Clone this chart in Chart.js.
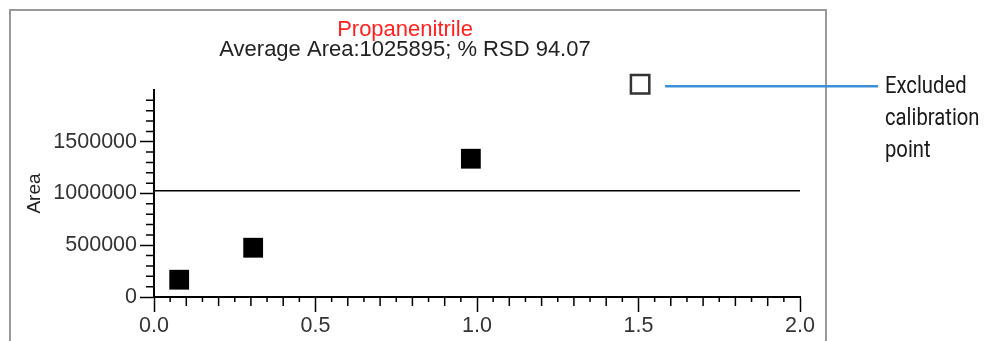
<!DOCTYPE html>
<html>
<head>
<meta charset="utf-8">
<script src="https://cdn.jsdelivr.net/npm/chart.js"></script>
<style>
  html, body { margin: 0; padding: 0; background: #fff; }
</style>
</head>
<body>
<canvas id="myChart" width="990" height="341"></canvas>
<script>
// data
const amounts = [0.078, 0.307, 0.981];
const areas = [167000, 476000, 1336000];
const excludedAmounts = [1.505];
const excludedAreas = [2055000];
const averageArea = 1025895;
const rsd = 94.07;
const xTickLabels = ['0.0', '0.5', '1.0', '1.5', '2.0'];
const yTickLabels = ['0', '500000', '1000000', '1500000'];
const noteLines = ['Excluded', 'calibration', 'point'];

const tickFont = { family: 'Liberation Sans', size: 21.5 };
const headFont = { family: 'Liberation Sans', size: 22, weight: 'normal', lineHeight: 0.9 };

function findLabel(list, value) {
  const hit = list.find(l => Math.abs(parseFloat(l) - value) < 1e-6);
  return hit === undefined ? '' : hit;
}

// minor tick marks + frame + callout
const extras = {
  id: 'extras',
  beforeDraw(chart) {
    const c = chart.ctx;
    c.save();
    c.strokeStyle = '#999';
    c.lineWidth = 2;
    c.strokeRect(10, 10, 816, 400);
    c.restore();
  },
  afterDraw(chart) {
    const c = chart.ctx;
    const xs = chart.scales.x, ys = chart.scales.y;
    c.save();
    c.strokeStyle = '#000';
    c.lineWidth = 1.5;
    c.beginPath();
    xs.ticks.forEach(t => {
      if (t.label !== '') return;
      const px = xs.getPixelForValue(t.value);
      const tenth = Math.abs(t.value * 10 - Math.round(t.value * 10)) < 1e-6;
      const len = tenth ? 9 : 5;
      c.moveTo(px, xs.top);
      c.lineTo(px, xs.top + len);
    });
    ys.ticks.forEach(t => {
      if (t.label !== '' || t.value >= ys.max) return;
      const py = ys.getPixelForValue(t.value);
      c.moveTo(ys.right - 8, py);
      c.lineTo(ys.right, py);
    });
    c.stroke();

    // callout for the excluded point
    const ex = xs.getPixelForValue(excludedAmounts[0]);
    const ey = ys.getPixelForValue(excludedAreas[0]);
    c.strokeStyle = '#3d8fd8';
    c.lineWidth = 2.5;
    c.beginPath();
    c.moveTo(ex + 25, ey + 2);
    c.lineTo(878, ey + 2);
    c.stroke();
    c.fillStyle = '#1a1a1a';
    c.font = '23px Roboto, sans-serif';
    c.textBaseline = 'middle';
    c.translate(885, 0);
    c.scale(0.88, 1);
    noteLines.forEach((s, i) => c.fillText(s, 0, ey + 3 + i * 32));
    c.restore();
  }
};

new Chart(document.getElementById('myChart'), {
  type: 'scatter',
  data: {
    datasets: [
      {
        data: amounts.map((x, i) => ({ x: x, y: areas[i] })),
        pointStyle: 'rect',
        pointRadius: 14,
        backgroundColor: '#000',
        borderColor: '#000',
        borderWidth: 0
      },
      {
        data: excludedAmounts.map((x, i) => ({ x: x, y: excludedAreas[i] })),
        pointStyle: 'rect',
        pointRadius: 13,
        backgroundColor: '#fff',
        borderColor: '#333',
        borderWidth: 2.5,
        clip: false
      },
      {
        type: 'line',
        data: [{ x: 0, y: averageArea }, { x: 2, y: averageArea }],
        borderColor: '#000',
        borderWidth: 1.5,
        pointRadius: 0
      }
    ]
  },
  options: {
    responsive: false,
    animation: false,
    devicePixelRatio: 1,
    layout: { padding: { top: 20, left: 10, right: 190, bottom: 0 } },
    plugins: {
      legend: { display: false },
      tooltip: { enabled: false },
      title: {
        display: true,
        text: 'Propanenitrile',
        color: '#ff2020',
        font: headFont,
        padding: { top: 0, bottom: 0 }
      },
      subtitle: {
        display: true,
        text: 'Average Area:' + averageArea + '; % RSD ' + rsd.toFixed(2),
        color: '#222',
        font: headFont,
        padding: { top: 0, bottom: 30.4 }
      }
    },
    scales: {
      x: {
        type: 'linear',
        min: 0,
        max: 2,
        afterFit: s => { s.height = 44; },
        border: { color: '#000', width: 2 },
        grid: {
          drawOnChartArea: false,
          tickLength: 15,
          tickWidth: 1.5,
          tickColor: ctx => (ctx.tick && ctx.tick.label !== '') ? '#000' : 'rgba(0,0,0,0)'
        },
        ticks: {
          stepSize: 0.05,
          autoSkip: false,
          maxRotation: 0,
          padding: 1,
          color: '#333',
          font: tickFont,
          callback: v => findLabel(xTickLabels, v)
        }
      },
      y: {
        type: 'linear',
        min: 0,
        max: 2000000,
        afterFit: s => { s.width = 144; },
        border: { color: '#000', width: 2 },
        grid: {
          drawOnChartArea: false,
          tickLength: 14,
          tickWidth: 1.5,
          tickColor: ctx => (ctx.tick && ctx.tick.label !== '') ? '#000' : 'rgba(0,0,0,0)'
        },
        title: {
          display: true,
          text: 'Area',
          color: '#222',
          font: { family: 'Liberation Sans', size: 19 },
          padding: { top: 13, bottom: 0 }
        },
        ticks: {
          stepSize: 100000,
          autoSkip: false,
          padding: 3,
          color: '#333',
          font: tickFont,
          callback: v => findLabel(yTickLabels, v)
        }
      }
    }
  },
  plugins: [extras]
});
</script>
</body>
</html>
